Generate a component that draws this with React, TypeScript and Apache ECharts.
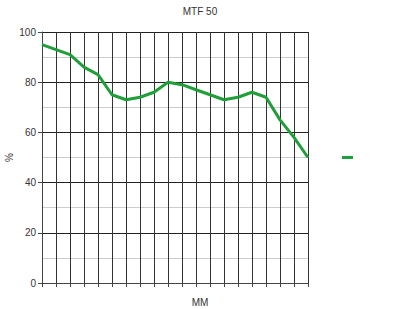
import React, { useEffect, useRef } from "react";
import * as echarts from "echarts";

const categories = ["1","2","3","4","5","6","7","8","9","10","11","12","13","14","15","16","17","18","19","20"];
const mtfValues = [95, 93, 91, 86, 83, 75, 73, 74, 76, 80, 79, 77, 75, 73, 74, 76, 74, 65, 58, 50];
const titleText = "MTF 50";
const xName = "MM";
const yName = "%";

export default function App() {
  const ref = useRef<HTMLDivElement>(null);
  useEffect(() => {
    if (!ref.current) return;
    const chart = echarts.init(ref.current, null, { renderer: "svg" });
    const font = "Liberation Sans, Arial, sans-serif";
    chart.setOption({
      animation: false,
      backgroundColor: "#fff",
      title: {
        text: titleText,
        left: "center",
        top: 1,
        textStyle: { fontSize: 10, fontWeight: "normal", color: "#333", fontFamily: font },
      },
      legend: {
        data: [" "],
        left: 337,
        top: 151,
        itemWidth: 11,
        itemHeight: 3,
        itemGap: 0,
        icon: "rect",
        formatter: () => "",
        textStyle: { fontSize: 1 },
      },
      grid: { left: 42, top: 32, right: 92, bottom: 26, containLabel: false, outerBoundsMode: "none" },
      xAxis: {
        type: "category",
        data: categories,
        boundaryGap: false,
        name: xName,
        nameLocation: "middle",
        nameGap: 14,
        nameMoveOverlap: false,
        nameTextStyle: { fontSize: 10, color: "#333", fontFamily: font, padding: [0, 0, 0, 50] },
        axisLine: { lineStyle: { color: "#444", width: 1 } },
        axisTick: { show: true, length: 4, interval: 0, lineStyle: { color: "#444" } },
        axisLabel: { show: false, interval: 0 },
        splitLine: { show: true, interval: 0, lineStyle: { color: "#333", width: 1 } },
      },
      yAxis: {
        type: "value",
        min: 0,
        max: 100,
        interval: 20,
        name: yName,
        nameLocation: "middle",
        nameGap: 28,
        nameMoveOverlap: false,
        nameRotate: 90,
        nameTextStyle: { fontSize: 10, color: "#333", fontFamily: font },
        axisLine: { show: true, lineStyle: { color: "#444", width: 1 } },
        axisTick: { show: true, length: 4, lineStyle: { color: "#444" } },
        axisLabel: { fontSize: 10, color: "#333", fontFamily: font, margin: 6 },
        splitLine: { show: true, lineStyle: { color: "#222", width: 1 } },
        minorTick: { show: false, splitNumber: 2 },
        minorSplitLine: { show: true, lineStyle: { color: "#ccc", width: 1 } },
      },
      series: [
        {
          name: " ",
          type: "line",
          data: mtfValues,
          symbol: "none",
          lineStyle: { color: "#1f9e3a", width: 3 },
          itemStyle: { color: "#1f9e3a" },
        },
      ],
    });
    return () => chart.dispose();
  }, []);
  return (
    <div
      ref={ref}
      style={{ position: "fixed", left: 0, top: 0, width: 400, height: 309, background: "#fff" }}
    />
  );
}
